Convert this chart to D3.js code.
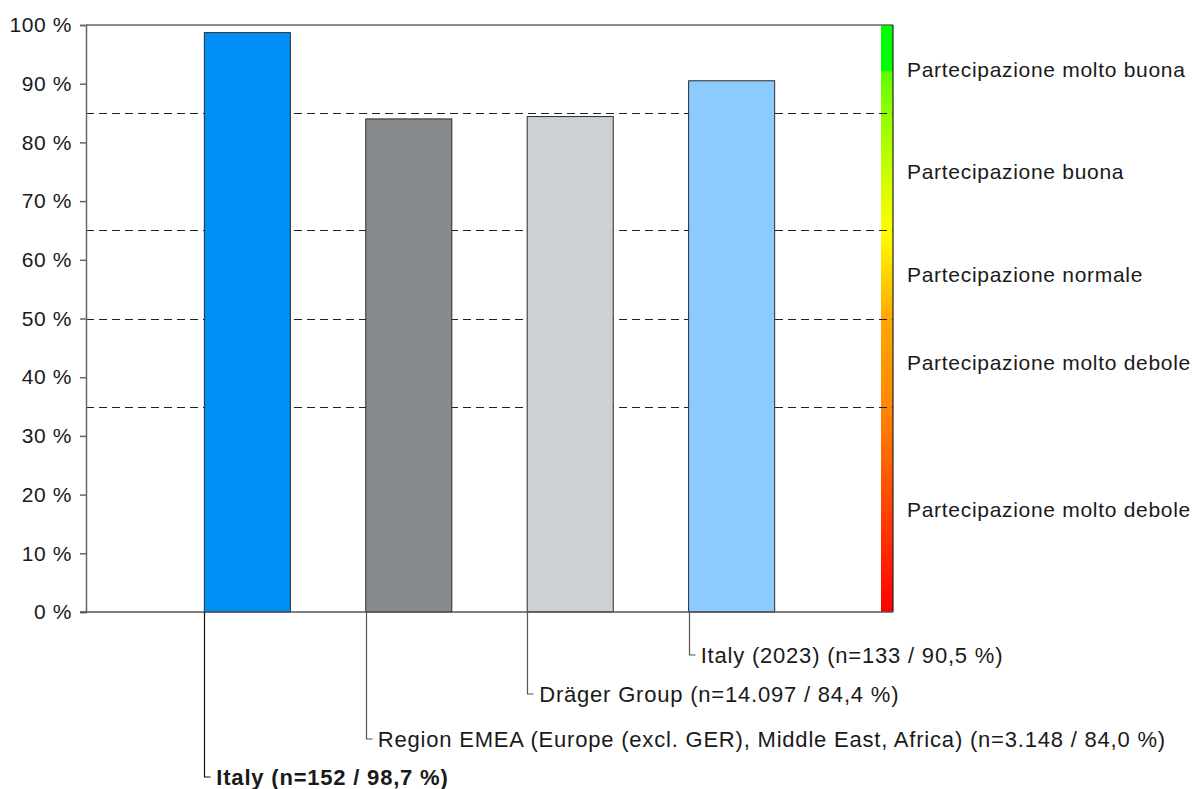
<!DOCTYPE html>
<html><head><meta charset="utf-8">
<script src="https://cdn.jsdelivr.net/npm/d3@7"></script>
<style>
body{margin:0;background:#fff;}
text{font-family:"Liberation Sans",Arial,Helvetica,sans-serif;fill:#1a1a1a;}
</style></head>
<body><svg id="c" width="1196" height="789"></svg>
<script>
const categories = ["Italy", "Region EMEA", "Dräger Group", "Italy (2023)"];
const values = [98.7, 84.0, 84.4, 90.5];
const labels = [
  "Italy (n=152 / 98,7 %)",
  "Region EMEA (Europe (excl. GER), Middle East, Africa) (n=3.148 / 84,0 %)",
  "Dräger Group (n=14.097 / 84,4 %)",
  "Italy (2023) (n=133 / 90,5 %)"
];
const barColors = ["#0090f5", "#878b8e", "#cdd1d4", "#8ccbff"];
const yTicks = [0,10,20,30,40,50,60,70,80,90,100];
const thresholds = [35, 50, 65, 85];
const bandLow = [85, 65, 50, 35, 0];
const bandHigh = [100, 85, 65, 50, 35];
const bandLabels = ["Partecipazione molto buona","Partecipazione buona","Partecipazione normale","Partecipazione molto debole","Partecipazione molto debole"];
const gradStops = [[0,"#ff0000"],[35,"#ff8800"],[50,"#ffa800"],[62,"#ffee00"],[65,"#ffff00"],[85,"#90ff00"],[92,"#5cff00"],[92.3,"#00ff00"],[100,"#00ff00"]];

const svg = d3.select("#c");
const L = 86, R = 893, T = 25, B = 612, barW = 12;
const y = d3.scaleLinear().domain([0,100]).range([B,T]);
const x = d3.scaleBand().domain(categories).range([L,R]).paddingInner(0.467).paddingOuter(0.733);

// gradient
const defs = svg.append("defs");
const lg = defs.append("linearGradient").attr("id","g").attr("x1",0).attr("x2",0).attr("y1",1).attr("y2",0);
gradStops.forEach(s=>lg.append("stop").attr("offset",s[0]+"%").attr("stop-color",s[1]));
svg.append("rect").attr("x",R-barW).attr("y",T).attr("width",barW).attr("height",B-T).attr("fill","url(#g)");

// dashed thresholds
svg.selectAll("line.th").data(thresholds).join("line")
  .attr("x1",L).attr("x2",R).attr("y1",d=>Math.round(y(d))+0.5).attr("y2",d=>Math.round(y(d))+0.5)
  .attr("stroke","#222").attr("stroke-width",1).attr("stroke-dasharray","8,5");

// bars
svg.selectAll("rect.bar").data(values).join("rect")
  .attr("x",(d,i)=>x(categories[i])).attr("width",x.bandwidth())
  .attr("y",d=>y(d)).attr("height",d=>B-y(d))
  .attr("fill",(d,i)=>barColors[i]).attr("stroke","#2a2a2a").attr("stroke-width",1);

// frame
svg.append("line").attr("x1",L).attr("x2",R).attr("y1",T).attr("y2",T).attr("stroke","#666").attr("stroke-width",1.5);
svg.append("line").attr("x1",R).attr("x2",R).attr("y1",T).attr("y2",B).attr("stroke","#222").attr("stroke-width",1.2);

// y axis
const ax = svg.append("g").attr("transform",`translate(${L},0)`)
  .call(d3.axisLeft(y).tickValues(yTicks).tickSize(6).tickPadding(8).tickFormat(d=>d+" %"));
ax.select(".domain").attr("stroke","#666").attr("stroke-width",1.5);
ax.selectAll(".tick line").attr("stroke","#666").attr("stroke-width",1.5);
ax.selectAll(".tick text").attr("font-size",21).attr("letter-spacing","0.6px")
  .style("font-family",'"Liberation Sans",Arial,sans-serif').attr("fill","#1a1a1a");

// x axis baseline
svg.append("line").attr("x1",L-6).attr("x2",R).attr("y1",B).attr("y2",B).attr("stroke","#555").attr("stroke-width",1.5);

// right band labels
svg.selectAll("text.band").data(bandLabels).join("text")
  .attr("x",907).attr("y",(d,i)=>y((bandLow[i]+bandHigh[i])/2)).attr("dy","0.36em")
  .attr("font-size",21).attr("letter-spacing","0.7px").text(d=>d);

// leader labels
const labelY = [777, 739, 694, 655];
const g = svg.selectAll("g.lead").data(labels).join("g");
g.append("path").attr("d",(d,i)=>{const xx=Math.round(x(categories[i]))+0.5; return `M${xx},${B}V${labelY[i]}H${xx+6}`;})
  .attr("fill","none").attr("stroke",(d,i)=>i==0?"#111":"#555").attr("stroke-width",1.2);
g.append("text").attr("x",(d,i)=>x(categories[i])+12).attr("y",(d,i)=>labelY[i]).attr("dy","0.36em")
  .attr("font-size",22).attr("letter-spacing","0.8px")
  .attr("font-weight",(d,i)=>i==0?"bold":"normal").text(d=>d);
</script></body></html>
